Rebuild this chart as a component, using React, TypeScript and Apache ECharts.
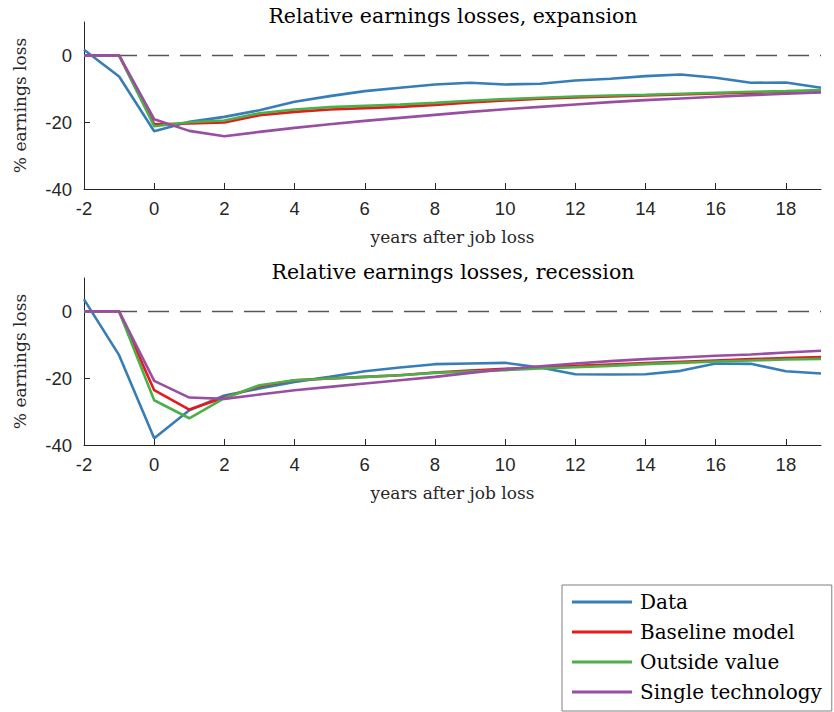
import React, { useEffect, useRef } from "react";
import * as echarts from "echarts";

const YEARS = [-2, -1, 0, 1, 2, 3, 4, 5, 6, 7, 8, 9, 10, 11, 12, 13, 14, 15, 16, 17, 18, 19];
const X_TICKS = [-2, 0, 2, 4, 6, 8, 10, 12, 14, 16, 18];
const Y_TICKS = [-40, -20, 0];

const SERIES_NAMES = ["Data", "Baseline model", "Outside value", "Single technology"];
const SERIES_COLORS = ["#377EB8", "#E41A1C", "#4DAF4A", "#984EA3"];

const TITLES = ["Relative earnings losses, expansion", "Relative earnings losses, recession"];

// Expansion
const DATA_EXP = [1.7, -6.3, -22.7, -19.9, -18.4, -16.4, -13.9, -12.2, -10.7, -9.7, -8.7, -8.2, -8.7, -8.5, -7.5, -7.0, -6.2, -5.7, -6.7, -8.2, -8.1, -9.7];
const BASE_EXP = [0, 0, -20.6, -20.4, -20.1, -17.9, -16.9, -16.2, -15.8, -15.4, -14.8, -14.1, -13.5, -13.0, -12.6, -12.3, -12.0, -11.7, -11.4, -11.2, -10.9, -10.7];
const OUT_EXP = [0, 0, -21.2, -20.0, -19.5, -17.3, -16.2, -15.5, -15.1, -14.7, -14.2, -13.6, -13.1, -12.7, -12.3, -12.0, -11.8, -11.5, -11.2, -10.9, -10.7, -10.4];
const SINGLE_EXP = [0, 0, -19.1, -22.6, -24.2, -22.9, -21.7, -20.6, -19.6, -18.7, -17.8, -16.9, -16.1, -15.4, -14.7, -14.0, -13.4, -12.9, -12.4, -11.9, -11.5, -11.1];

// Recession
const DATA_REC = [3.6, -13.1, -38.0, -29.6, -25.2, -23.1, -21.1, -19.6, -17.9, -16.8, -15.8, -15.6, -15.4, -16.8, -18.8, -18.9, -18.8, -17.8, -15.6, -15.7, -17.9, -18.6];
const BASE_REC = [0, 0, -23.6, -29.4, -25.8, -22.4, -20.6, -20.1, -19.6, -19.1, -18.3, -17.7, -17.2, -16.7, -16.3, -15.9, -15.5, -15.1, -14.7, -14.3, -14.0, -13.7];
const OUT_REC = [0, 0, -26.6, -32.0, -26.0, -22.1, -20.6, -20.1, -19.6, -19.1, -18.4, -18.0, -17.6, -17.1, -16.7, -16.3, -15.8, -15.4, -15.0, -14.7, -14.4, -14.2];
const SINGLE_REC = [0, 0, -20.8, -25.8, -26.2, -24.9, -23.6, -22.6, -21.6, -20.6, -19.6, -18.4, -17.3, -16.4, -15.6, -14.9, -14.3, -13.8, -13.3, -12.9, -12.3, -11.8];

const PANELS = [
  [DATA_EXP, BASE_EXP, OUT_EXP, SINGLE_EXP],
  [DATA_REC, BASE_REC, OUT_REC, SINGLE_REC],
];

const AXIS_COLOR = "#262626";
const SERIF = "'DejaVu Serif', serif";
const SANS = "'Liberation Sans', Arial, sans-serif";

export default function App() {
  const ref = useRef<HTMLDivElement>(null);

  useEffect(() => {
    if (!ref.current) return;
    const chart = echarts.init(ref.current, undefined, { renderer: "svg" });

    const gridTops = [22, 278];
    const gridHeight = 167;
    const grids = gridTops.map((t) => ({ left: 84, right: 13, top: t, height: gridHeight }));

    const xAxes = gridTops.map((_, i) => ({
      type: "value",
      gridIndex: i,
      min: -2,
      max: 19,
      interval: 2,
      axisLine: { show: true, onZero: false, lineStyle: { color: AXIS_COLOR, width: 1 } },
      axisTick: { show: true, inside: true, length: 6, customValues: X_TICKS, lineStyle: { color: AXIS_COLOR } },
      axisLabel: { customValues: X_TICKS, fontFamily: SANS, fontSize: 18.5, color: AXIS_COLOR, margin: 10 },
      splitLine: { show: false },
      name: "years after job loss",
      nameLocation: "middle",
      nameGap: 39,
      nameTextStyle: { fontFamily: SERIF, fontSize: 17, color: AXIS_COLOR },
    }));

    const yAxes = gridTops.map((_, i) => ({
      type: "value",
      gridIndex: i,
      min: -40,
      max: 10,
      interval: 20,
      axisLine: { show: true, onZero: false, lineStyle: { color: AXIS_COLOR, width: 1 } },
      axisTick: { show: true, inside: true, length: 6, customValues: Y_TICKS, lineStyle: { color: AXIS_COLOR } },
      axisLabel: { customValues: Y_TICKS, fontFamily: SANS, fontSize: 18.5, color: AXIS_COLOR, margin: 12 },
      splitLine: { show: false },
      name: "% earnings loss",
      nameLocation: "middle",
      nameGap: 56,
      nameTextStyle: { fontFamily: SERIF, fontSize: 17, color: AXIS_COLOR },
    }));

    const series: any[] = [];
    PANELS.forEach((panel, p) => {
      panel.forEach((arr, s) => {
        const item: any = {
          type: "line",
          name: SERIES_NAMES[s],
          xAxisIndex: p,
          yAxisIndex: p,
          data: YEARS.map((x, i) => [x, arr[i]]),
          symbol: "none",
          showSymbol: false,
          color: SERIES_COLORS[s],
          lineStyle: { width: 2.6, color: SERIES_COLORS[s] },
          emphasis: { disabled: true },
          z: 3 + s,
        };
        if (s === 0) {
          item.markLine = {
            silent: true,
            symbol: "none",
            label: { show: false },
            lineStyle: { type: [21, 11], color: "#555555", width: 1.3 },
            data: [{ yAxis: 0 }],
          };
        }
        series.push(item);
      });
    });

    chart.setOption({
      animation: false,
      backgroundColor: "#ffffff",
      grid: grids,
      xAxis: xAxes,
      yAxis: yAxes,
      series,
      legend: {
        data: SERIES_NAMES,
        orient: "vertical",
        left: 562,
        top: 585,
        icon: "rect",
        itemWidth: 60,
        itemHeight: 3,
        itemGap: 8,
        padding: [6, 10, 8, 10],
        borderColor: "#7f7f7f",
        borderWidth: 1,
        backgroundColor: "#ffffff",
        selectedMode: false,
        textStyle: { fontFamily: SERIF, fontSize: 20, color: "#000000", lineHeight: 22, padding: [0, 0, 0, 3] },
      },
      graphic: TITLES.map((t, i) => ({
        type: "text",
        x: 453,
        y: [5, 261][i],
        style: { text: t, fontFamily: SERIF, fontSize: 20.5, fill: "#000000", textAlign: "center" },
      })),
    });

    return () => chart.dispose();
  }, []);

  return (
    <div
      ref={ref}
      style={{ position: "fixed", left: 0, top: 0, width: 834, height: 712 }}
    />
  );
}
